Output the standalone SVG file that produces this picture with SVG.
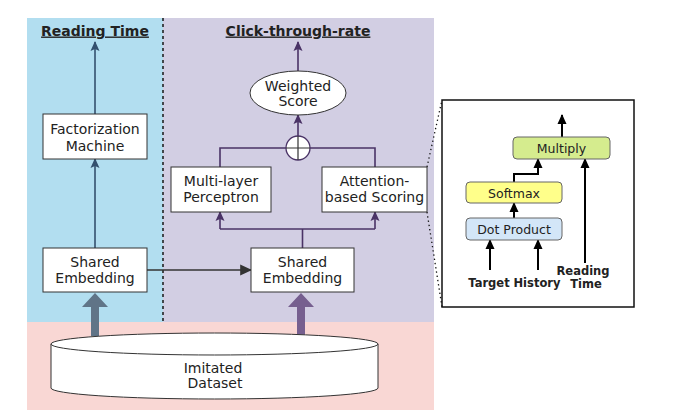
<svg xmlns="http://www.w3.org/2000/svg" width="673" height="415" viewBox="0 0 673 415">
<style>
text{font-family:"DejaVu Sans",Verdana,sans-serif;fill:#222;text-anchor:middle}
.t{font-size:14px}
.s{font-size:12.5px}
.b{font-size:11.5px;font-weight:bold}
.h{font-size:14px;font-weight:bold;text-decoration:underline}
.box{fill:#fff;stroke:#333;stroke-width:1}
.lb{fill:none;stroke:#34506e;stroke-width:1.6}
.lp{fill:none;stroke:#4a3366;stroke-width:1.6}
.lk{fill:none;stroke:#000;stroke-width:2}
.rb{stroke:#666;stroke-width:1}
</style>
<defs>
<marker id="ab" markerUnits="userSpaceOnUse" markerWidth="10" markerHeight="10" viewBox="0 0 10 10" refX="9" refY="5" orient="auto"><path d="M0,0.5 L10,5 L0,9.5 L2,5 z" fill="#34506e"/></marker>
<marker id="ap" markerUnits="userSpaceOnUse" markerWidth="10" markerHeight="10" viewBox="0 0 10 10" refX="9" refY="5" orient="auto"><path d="M0,0.5 L10,5 L0,9.5 L2,5 z" fill="#4a3366"/></marker>
<marker id="ag" markerUnits="userSpaceOnUse" markerWidth="12" markerHeight="12" viewBox="0 0 10 10" refX="9" refY="5" orient="auto"><path d="M0,0.5 L10,5 L0,9.5 z" fill="#333"/></marker>
<marker id="ak" markerUnits="userSpaceOnUse" markerWidth="10" markerHeight="10" viewBox="0 0 10 10" refX="9" refY="5" orient="auto"><path d="M0,0.5 L10,5 L0,9.5 z" fill="#000"/></marker>
</defs>
<g id="background">
<rect x="27" y="18" width="136" height="304" fill="#b2def0"/>
<rect x="163" y="18" width="271" height="304" fill="#d2cee3"/>
<rect x="27" y="322" width="407" height="88" fill="#f9d7d4"/>
<line x1="163" y1="18" x2="163" y2="322" stroke="#222" stroke-width="1.6" stroke-dasharray="3,3"/>
</g>
<g id="detail">
<rect x="442" y="100" width="192" height="207" fill="#fff" stroke="#111" stroke-width="1.5"/>
</g>
<g id="titles">
<text class="h" x="95" y="35.5">Reading Time</text>
<text class="h" x="298" y="35.5">Click-through-rate</text>
</g>
<g id="connectors">
<line class="lb" x1="95" y1="114" x2="95" y2="42" marker-end="url(#ab)"/>
<line class="lb" x1="95" y1="248" x2="95" y2="159" marker-end="url(#ab)"/>
<line x1="147" y1="270" x2="251" y2="270" stroke="#333" stroke-width="1.6" marker-end="url(#ag)"/>
<path class="lp" d="M302.5,248 V229"/>
<path class="lp" d="M220,229 H375"/>
<line class="lp" x1="220" y1="229" x2="220" y2="212" marker-end="url(#ap)"/>
<line class="lp" x1="375" y1="229" x2="375" y2="212" marker-end="url(#ap)"/>
<path class="lp" d="M220,167 V148 H286 M310,148 H375 V167"/>
<line class="lp" x1="298" y1="136" x2="298" y2="115" marker-end="url(#ap)"/>
<line class="lp" x1="298" y1="71" x2="298" y2="42" marker-end="url(#ap)"/>
<path d="M91,336 V307 H82 L95,293 L108,307 H99 V336 z" fill="#607487"/>
<path d="M297,336 V307 H288 L301,293 L314,307 H305 V336 z" fill="#765f8f"/>
<line x1="427" y1="167" x2="442" y2="100" stroke="#111" stroke-width="1.3" stroke-dasharray="1.3,3"/>
<line x1="427" y1="212" x2="442" y2="307" stroke="#111" stroke-width="1.3" stroke-dasharray="1.3,3"/>
<line class="lk" x1="562" y1="137" x2="562" y2="115" marker-end="url(#ak)"/>
<line class="lk" x1="514" y1="218" x2="514" y2="203" marker-end="url(#ak)"/>
<path class="lk" d="M514,182 V174 H538 V159" marker-end="url(#ak)"/>
<line class="lk" x1="490" y1="270" x2="490" y2="240" marker-end="url(#ak)"/>
<line class="lk" x1="538" y1="270" x2="538" y2="240" marker-end="url(#ak)"/>
<line class="lk" x1="585" y1="263" x2="585" y2="159" marker-end="url(#ak)"/>
</g>
<g id="fm">
<rect class="box" x="43" y="114" width="104" height="45"/>
<text class="t" x="95" y="134">Factorization</text>
<text class="t" x="95" y="150.5">Machine</text>
</g>
<g id="se-left">
<rect class="box" x="43" y="248" width="104" height="44"/>
<text class="t" x="95" y="267">Shared</text>
<text class="t" x="95" y="283">Embedding</text>
</g>
<g id="se-right">
<rect class="box" x="251" y="248" width="103" height="44"/>
<text class="t" x="302.5" y="267">Shared</text>
<text class="t" x="302.5" y="283">Embedding</text>
</g>
<g id="mlp">
<rect class="box" x="171" y="167" width="100" height="45"/>
<text class="t" x="221" y="185.5">Multi-layer</text>
<text class="t" x="221" y="202">Perceptron</text>
</g>
<g id="attention">
<rect class="box" x="322" y="167" width="105" height="45"/>
<text class="t" x="374.5" y="185.5">Attention-</text>
<text class="t" x="374.5" y="202">based Scoring</text>
</g>
<g id="sum">
<circle cx="298" cy="148" r="12" fill="#fff" stroke="#4a3366" stroke-width="1.3"/>
<path d="M286,148 H310 M298,136 V160" stroke="#333" stroke-width="1.2"/>
</g>
<g id="weighted">
<ellipse cx="298" cy="93" rx="48" ry="22" fill="#fff" stroke="#333" stroke-width="1"/>
<text class="t" x="298" y="90.5">Weighted</text>
<text class="t" x="298" y="106">Score</text>
</g>
<g id="dataset">
<path d="M51,344 V388 A163.5,11 0 0 0 378,388 V344" fill="#fff" stroke="#333" stroke-width="1"/>
<ellipse cx="214.5" cy="344" rx="163.5" ry="11" fill="#fff" stroke="#333" stroke-width="1"/>
<text class="t" x="213" y="372.5">Imitated</text>
<text class="t" x="215" y="388">Dataset</text>
</g>
<g id="multiply">
<rect class="rb" x="513" y="137" width="97" height="22" rx="4" fill="#d5ec8e"/>
<text class="s" x="561.5" y="152.5">Multiply</text>
</g>
<g id="softmax">
<rect class="rb" x="466" y="182" width="96" height="21" rx="4" fill="#ffff8a"/>
<text class="s" x="514" y="197.5">Softmax</text>
</g>
<g id="dot">
<rect class="rb" x="466" y="218" width="96" height="22" rx="4" fill="#d3e6f8"/>
<text class="s" x="514" y="234">Dot Product</text>
</g>
<g id="labels">
<text class="b" x="489" y="286.5">Target</text>
<text class="b" x="537" y="286.5">History</text>
<text class="b" x="583" y="275">Reading</text>
<text class="b" x="586" y="288">Time</text>
</g>
</svg>
